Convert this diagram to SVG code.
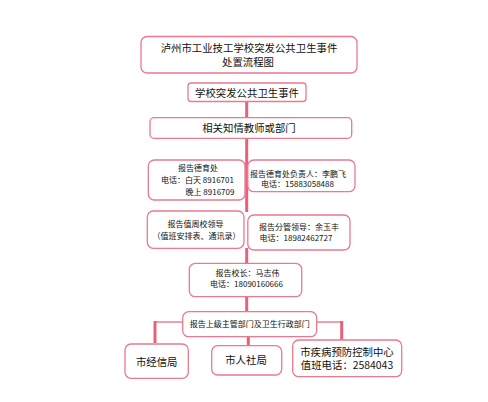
<svg xmlns="http://www.w3.org/2000/svg" width="488" height="402" viewBox="0 0 488 402">
<style>
.box{fill:#fff;stroke:#e97a90;stroke-width:1.3}
.t{font-family:"Noto Sans CJK SC","Noto Sans",sans-serif;fill:#111;text-anchor:middle}
.L{font-size:10.4px}
.S{font-size:8px}
.c{stroke:#e8607a;stroke-width:3;fill:none}
.thin{stroke:#e8607a;stroke-width:1.2;fill:none}
</style>
<rect width="488" height="402" fill="#fff"/>
<g id="connectors">
<line class="c" x1="246.7" y1="102" x2="246.7" y2="118"/>
<line class="c" x1="246.7" y1="138" x2="246.7" y2="160"/>
<line class="c" x1="246.7" y1="160" x2="246.7" y2="212"/>
<line class="c" x1="246.7" y1="248" x2="246.7" y2="264"/>
<line class="c" x1="246.7" y1="297" x2="246.7" y2="312"/>
<line class="c" x1="248.3" y1="337" x2="248.3" y2="346"/>
<polyline class="thin" points="182.7,322 155,322"/>
<line class="c" x1="155" y1="321" x2="155" y2="343"/>
<polyline class="thin" points="316.7,322 341.7,322"/>
<line class="c" x1="341.7" y1="321" x2="341.7" y2="341"/>
</g>
<g id="title">
<rect class="box" x="141" y="36.5" width="216" height="36.5" rx="6"/>
<text class="t L" x="249" y="52">泸州市工业技工学校突发公共卫生事件</text>
<text class="t L" x="248" y="66">处置流程图</text>
</g>
<g id="event">
<rect class="box" x="188" y="83" width="118" height="18.5" rx="3"/>
<text class="t L" x="247" y="96.5">学校突发公共卫生事件</text>
</g>
<g id="teacher">
<rect class="box" x="150" y="117.7" width="201.7" height="20.6" rx="4"/>
<text class="t L" x="249" y="131.7">相关知情教师或部门</text>
</g>
<g id="deyu">
<rect class="box" x="148.3" y="160" width="96.7" height="40" rx="6"/>
<text class="t S" x="198" y="170.7">报告德育处</text>
<text class="t S" x="197.5" y="183.3">电话：白天 8916701</text>
<text class="t S" x="210" y="195">晚上 8916709</text>
</g>
<g id="deyu-head">
<rect class="box" x="247.8" y="160" width="107.2" height="31.7" rx="6"/>
<text class="t S" x="298" y="176.7">报告德育处负责人：李鹏飞</text>
<text class="t S" x="297.5" y="187.3">电话：15883058488</text>
</g>
<g id="duty">
<rect class="box" x="147.3" y="211" width="96.7" height="37.3" rx="6"/>
<text class="t S" x="195.5" y="226.7">报告值周校领导</text>
<text class="t S" x="196.5" y="239.3">（值班安排表、通讯录）</text>
</g>
<g id="leader">
<rect class="box" x="247.8" y="215" width="102.2" height="35" rx="6"/>
<text class="t S" x="299" y="230">报告分管领导：余玉丰</text>
<text class="t S" x="296" y="241">电话：18982462727</text>
</g>
<g id="principal">
<rect class="box" x="189.3" y="263.3" width="112.4" height="33.4" rx="6"/>
<text class="t S" x="247.5" y="275.7">报告校长：马志伟</text>
<text class="t S" x="246.5" y="286.7">电话：18090160666</text>
</g>
<g id="superior">
<rect class="box" x="182.7" y="311.7" width="134" height="25" rx="6"/>
<text class="t S" x="249.7" y="327.3">报告上级主管部门及卫生行政部门</text>
</g>
<g id="jingxin">
<rect class="box" x="125" y="344" width="63.3" height="34.3" rx="6"/>
<text class="t L" x="156.7" y="365.7">市经信局</text>
</g>
<g id="renshe">
<rect class="box" x="211.7" y="345.7" width="70" height="29.3" rx="6"/>
<text class="t L" x="246" y="364.3">市人社局</text>
</g>
<g id="cdc">
<rect class="box" x="292.7" y="340" width="109" height="36.7" rx="6"/>
<text class="t L" x="347" y="355.7">市疾病预防控制中心</text>
<text class="t L" x="347" y="369.3">值班电话：2584043</text>
</g>
</svg>
